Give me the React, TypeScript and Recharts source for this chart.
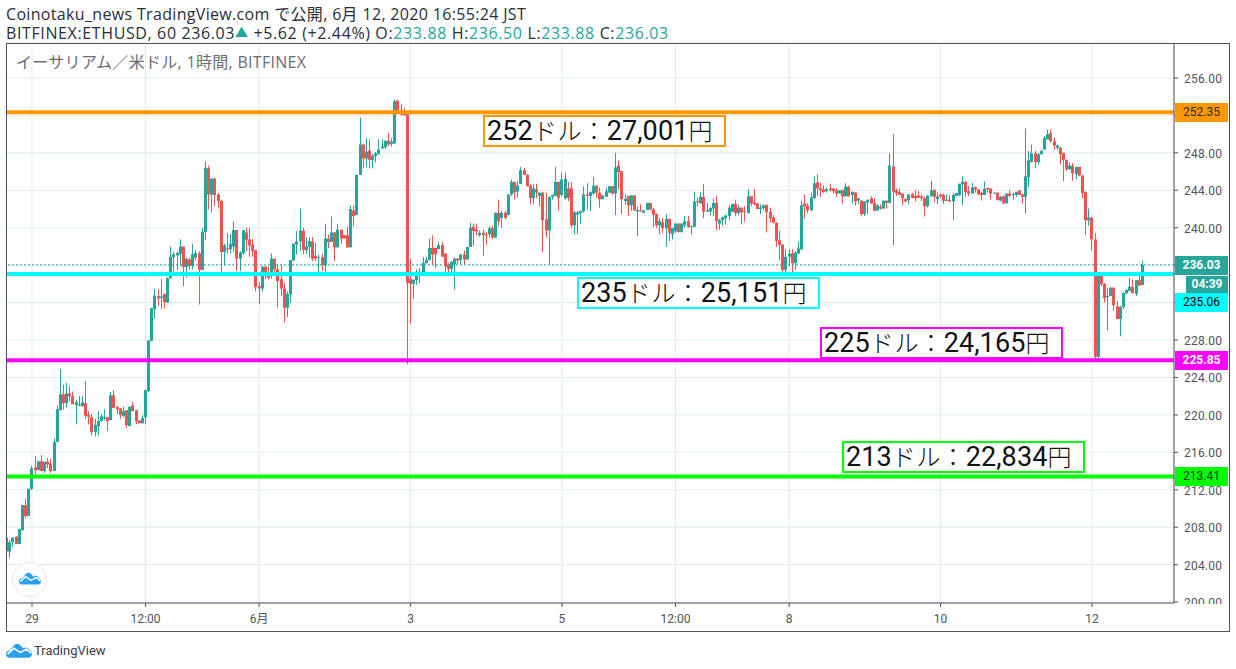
import React from "react";
import { ComposedChart, Bar, XAxis, YAxis, CartesianGrid, ReferenceLine } from "recharts";

const opens = [206.9,205.4,206.4,207,206.2,207.7,210.35,209.2,212.1,214.4,214.1,215.05,214,215,214.8,214,217.1,220.5,222.2,221.25,222.3,222,221.05,221,220.95,221.25,220,219.75,218.15,218.8,219.35,219.6,219.75,219.45,222.1,220.85,220.7,219.9,220.5,218.8,221,220.5,219.4,219.1,219.75,222.55,
227.9,231.3,232.7,232.5,232.9,232,234.6,236.85,237.05,237.2,238,235.8,236.6,235.9,236.8,237.25,235.5,239.55,246.35,243.55,245.25,243.55,242.9,237.4,237.8,237.7,238,239.75,236.7,237.25,239.5,238.75,238.2,237.6,233.75,233.5,235.85,235,234.85,236.7,235.55,234.5,233.5,231.45,232.9,236.5,238.2,238.55,239.7,237.6,237.95,238.55,237,236.75,236.85,236,238.85,238.5,239.5,237.9,239.8,239.2,239.2,237.9,241.85,241.35,245.65,248.9,247.4,248.25,247.25,247.65,247.85,248.5,248.6,249.3,248.95,249,253.6,252.6,252.2,252.1,234.5,234,234.4,235.3,
234.9,236.2,236.55,237.85,237.85,237.7,238.15,237.25,236.1,235.6,236.1,236.7,236.55,237.15,236.6,237.95,240.1,239.8,239.2,239.45,239.3,239.3,239.95,238.95,241.6,241.05,241.6,241.35,243.55,244.9,243.85,244.7,246.15,245.65,244.5,243.15,244.1,243.4,243.75,240.9,239.7,243.3,243.4,244.9,243.5,243.15,244.2,244.2,240.25,241.4,241.55,241.75,243.55,243.4,243.65,244.5,243.75,243.05,243.3,243.75,244.45,243.65,246.65,246.05,242.85,243.4,242.4,243.45,241.75,241.85,241.6,241.9,242.65,241.95,241.5,240.25,240.6,239.95,240.95,239.3,239.6,240.45,239.55,240.25,240.7,240.1,240.1,242.85,242.6,243.3,241.7,241.75,242.05,242.65,240.45,
240.8,241,241.25,241.7,242.55,241.55,242.15,241.75,241.55,243.35,242.7,242.6,242,242.1,242.4,241.7,241.1,240.55,238.65,238.2,235.5,236.9,237.25,236.2,237.25,237.7,242.6,242.4,241.85,243.15,244.85,244.25,244.1,243.9,244.2,244.2,244,243.65,244,243.35,244.4,243.5,243.75,242.9,242.9,241.45,242.7,243.15,242.65,241.85,242.25,242.05,242.9,242.65,246.55,244,243.8,243.65,243.05,242.95,243.6,243.4,243.45,243.35,243.15,242.3,243.35,244.05,243.05,243.55,243.5,242.9,243,242.8,243.4,243.5,244.65,244.9,243.9,243.65,244.35,244.1,243.7,243.5,244.25,244.2,243.65,243.75,242.9,243.35,242.6,243.65,243.5,243.5,244,
243.55,243.3,245.4,247,247.95,247,247.85,248.35,249.45,250.1,249.25,248.55,248.55,248,247.25,246.25,246.65,245.75,246.5,245.6,243.8,240.8,241.1,238.75,226.2,234.85,234,232.6,232.7,233.6,231.6,230.25,231.55,233,233.25,233.7,232.9,234.4,233.88];

const highs = [206.9,206.6,206.9,207,207.8,210.35,211.05,212.1,214.55,215.6,215.05,215.7,215,215.4,215.3,217.5,221,224.9,223.2,223.4,223.1,222.5,221.6,222,222,223.6,220.4,220.1,219.6,220.4,220.1,220.6,219.75,222.45,222.65,220.95,220.7,220.9,220.5,220.95,221.4,220.5,219.4,219.95,222.65,227.95,
231.4,233.5,233.4,234.5,233,234.65,238,237.45,237.5,238.75,238,236.8,236.8,238.3,237.6,237.5,240,247.1,246.65,245.25,245.35,243.7,242.9,238.3,239.45,239.3,240.7,239.75,237.5,239.75,240,240,238.8,237.6,234.2,235.85,235.85,235.85,237.25,236.7,236.05,236,234.1,233.2,236.55,238.3,239.65,242.05,240,239,239,239,238.4,237.15,237.2,240.4,239.3,241.2,239.5,240.4,239.8,239.2,240.15,242.4,242.4,245.65,251.8,248.9,249.55,249.45,247.85,248.1,249.45,249.45,249.3,250.1,249.55,253.7,253.6,253.2,252.85,252.3,236.7,234.45,235.55,235.7,
236.9,236.9,238.85,239.2,237.85,238.5,238.5,237.25,236.25,236.45,236.8,236.7,237.15,237.6,237.95,240.55,240.45,240.45,239.7,239.8,239.55,240.15,240.25,241.6,243,241.8,241.8,243.55,245.15,244.9,245,246.5,246.4,245.7,244.65,244.65,244.7,243.75,243.75,243.75,243.3,243.55,246.5,244.9,245.9,245.9,244.9,244.9,241.8,241.8,241.8,244.4,244.75,243.9,245.45,244.5,244.3,243.55,244.3,244.45,244.45,248,247.2,246.05,243.55,243.4,243.45,243.45,242.25,242.5,241.85,242.65,242.65,242.15,241.5,241.05,241.05,241.45,240.95,240,240.45,240.45,240.45,241.25,241.25,240.2,243.85,243.2,243.8,244.65,242.65,242.2,243.1,243.4,240.95,
241.2,241.4,242.4,242.55,243,242.5,242.15,242.3,244.1,243.35,244.1,242.6,242.5,242.5,242.5,242.15,241.35,240.55,239.7,238.2,237.7,237.7,237.7,237.5,238.5,242.9,243.55,242.65,243.75,245.5,245.7,244.8,244.55,244.3,244.7,244.2,244.2,244,244.1,244.75,244.5,243.85,243.8,243.15,242.9,242.8,243,243.35,243.15,242.5,242.5,242.9,242.9,247.95,250,244.2,244.2,243.65,243.15,243.55,243.7,244,243.9,243.55,243.35,243.45,245,244.1,243.75,243.65,243.65,243.55,243.45,243.75,243.75,244.7,245.5,245,244.45,244.8,244.4,244.1,243.85,244.95,244.3,244.2,243.75,243.75,243.4,243.45,243.65,244,243.75,243.85,244,
243.65,250.6,248.2,248.9,248.2,247.95,248.35,249.8,250.5,250.5,249.6,248.9,248.65,248,247.3,246.95,246.9,246.5,246.5,245.6,243.9,242.05,241.1,239.45,235.2,234.9,234.1,233.6,233.6,233.6,232.15,231.65,233.05,233.4,234.65,234.5,234.4,235,236.5];

const lows = [204.9,204.7,205.9,206.2,206.2,207.6,209,209.2,212,213.7,214.1,214,213.8,214.3,213.8,214,217.1,220.5,220.6,220.75,221.5,221.15,219,220.9,220.85,219.6,219,217.8,217.7,217.8,219.25,219.4,218.3,219.45,220.75,220.1,219.6,219.75,218.6,218.8,220.4,219,219.1,219.1,219,222.45,
227.9,230.3,231.7,231.3,231.4,232,234.6,234.9,235.5,235.9,233.75,234.65,235.55,235.55,236.5,231.8,235.5,238.7,241.95,241.65,242.3,242.05,235,236,237.25,237.25,237.4,235.35,235.35,237.15,237.5,236.9,236.9,233.2,231.8,233.2,234.5,234.5,234.55,235,231.5,232.7,229.9,230.45,232,236.4,237.15,237.5,237.15,237.2,236.8,236.45,236.45,234.95,235.4,234.85,237.8,238.5,236.45,237.9,238.3,238.85,237.9,237.9,240.15,241.35,245.65,246.35,246.45,246.35,246.35,247,247.85,248.4,248.4,248.7,248.7,249,252.4,252,252,225.4,229.75,232.45,233.9,234.1,
234.9,236.2,236.5,236.1,235.7,237.7,236.9,234.85,235.2,234.9,233.4,236.1,236.1,236.1,236.6,237.95,238.05,239.2,239.05,237,238.2,238.95,238.8,238.95,240.25,240,240.9,241.35,243.4,243,243.2,244.7,245.65,244.4,242.5,242.5,243.15,242.3,237.4,238.95,236.1,243,243.4,241.8,243.4,243,242.85,239.95,239.3,239.3,240.45,241.6,241.95,241.8,243.55,243.2,242.15,243.05,243.3,243.75,243.55,241.35,244.1,241.45,242.5,241.25,241.8,241.8,239.1,241.75,241.6,241.9,241.85,240.05,240,239.3,239.45,237.95,238.6,238.75,239.45,239.5,239.45,240,240,239.3,240.1,242.3,242.6,241.05,241.7,241.3,241.25,239.75,239.8,
240.2,240.35,240.8,241.7,241.25,241.35,240.35,240.7,241.55,242.3,242.4,242,241.5,241.9,239.5,240.55,240.45,237.95,236.5,234.95,234.95,235.9,234.95,235.5,237.2,237.6,241,241.6,241.85,243.15,243.4,243.3,243.75,243.75,243.9,243.65,243.3,243.65,242.6,243.35,243.35,242.6,242.4,242.5,241.2,241.25,241.45,242.55,241.8,241.8,241.9,242.05,242.05,242.65,238.15,243.4,243.5,242.4,242.75,242.55,243.15,242.8,243.2,242.85,241.2,242.15,243.35,242.7,242.5,243.15,242.55,242.85,242.8,240.8,243.35,243.4,242.4,243.3,243.4,243.65,243.75,243.55,242.9,243.5,243.75,243,243.65,242.95,242.8,242.6,242.6,243.3,243,243.3,243.5,
242.6,241.5,244.35,247,246.35,246.75,247.85,248.35,249.45,249.1,248.35,248.35,246.75,245,246.05,246.15,245,245.15,245.5,243.15,239.3,240.2,237.6,225.9,226,233.75,232,229.05,232.7,231.1,230.2,228.4,231.25,232.9,233.25,233,232.7,233.75,233.88];

const closes = [205.4,206.4,206.9,206.2,207.8,210.35,209.2,212.1,214.3,214.1,215.05,214,215,214.7,214,217.1,220.6,222.2,221.25,222.3,222,221.15,221.35,221.1,221.35,219.9,219.8,218.15,218.9,219.35,219.85,219.75,219.35,222.1,220.75,220.6,220,220.4,218.9,220.85,220.4,219.3,219.1,219.65,222.65,227.95,
231.4,232.75,232.45,232.65,232.05,234.65,236.9,237.15,237.3,238,235.8,236.7,235.9,237.15,237.3,235.5,239.55,246.4,243.55,245.25,243.5,242.85,237.4,238.1,237.7,238.3,239.75,236.7,237.35,239.75,238.7,238.1,237.5,233.65,233.5,235.85,235,234.65,236.7,235.55,234.3,233.5,231.45,232.95,236.55,238.3,238.55,239.7,237.6,238,238.55,236.7,236.7,236.85,236,238.85,238.45,239.5,237.9,239.8,238.85,238.85,237.9,242,241.25,245.65,248.9,247.4,248.15,247.25,247.7,247.95,248.35,248.7,249.3,248.9,249.2,253.5,252.45,252.1,252,234.1,234,234.45,235.3,234.9,
236.26,236.6,237.85,237.15,237.15,238.15,236.9,235.85,235.6,236.35,236.7,236.5,237.15,236.6,237.95,240,239.65,239.6,239.45,239.2,239.2,239.95,238.95,241.6,240.7,241.6,241.05,243.55,244.9,243.75,244.5,246.15,245.65,244.45,243.15,244.2,243.75,243.75,240.8,239.7,243.3,243.5,244.9,243.2,245.15,245.25,243.2,240.25,241.65,241.65,241.8,243.55,243.4,243.8,244.5,243.75,243.05,243.45,243.9,244.45,243.65,246.45,245.95,243.05,243.1,242.4,243.45,241.85,241.9,241.75,241.85,242.65,241.95,241.4,240.25,240.7,239.95,240.95,239.45,239.95,240.45,239.55,240.45,240.7,240.1,240.2,242.8,242.75,243.3,241.7,241.85,242.1,242.65,240.7,240.8,
241.1,241.3,242.15,242.55,241.55,242.15,241.65,241.65,243.35,242.6,242.5,242,242.15,242.4,241.65,241,240.55,238.6,238.15,235.5,236.9,237.25,236.2,237.35,237.8,242.4,242.3,241.85,243.25,244.75,244.2,244,243.8,244.1,244,243.9,243.65,244,243.35,244.4,243.35,243.85,242.8,243.15,241.45,242.8,243,242.6,241.8,242.4,242.05,242.9,242.65,246.65,243.85,243.7,243.5,243.15,242.8,243.55,243.2,243.15,243.2,243.15,242.3,243.45,244,243.3,243.35,243.35,242.85,243,242.8,243.5,243.7,244.7,244.9,243.8,243.65,244.3,244.1,243.55,243.5,244.15,244.1,243.65,243.75,242.95,243.3,242.6,243.65,243.4,243.6,243.85,243.5,
243.3,245.5,247.2,247.95,247,247.85,248.2,249.6,250,249.25,248.75,248.8,247.85,247.25,246.25,246.65,245.8,246.5,245.6,243.7,240.8,241.1,238.75,226.2,234.85,233.95,232.5,232.7,233.6,231.7,230.25,231.55,233.05,233.35,233.7,233,234.4,233.85,236.03];

const timeTickIndex = [8, 44, 80, 128, 176, 212, 248, 296, 344];
const timeTickLabels = ["29", "12:00", "6月", "3", "5", "12:00", "8", "10", "12"];
const priceTicks = [200,204,208,212,216,220,224,228,232,236,240,244,248,252,256];
const hiddenPriceTicks = [232, 236, 252];

const levelValues = [252.35, 235.06, 225.85, 213.41];
const levelColors = ["#ff9800", "#00ffff", "#ff00ff", "#00ff00"];
const levelTextColors = ["#2a2e39", "#000000", "#ffffff", "#1c3a20"];
const annotationTexts = ["252ドル：27,001円", "235ドル：25,151円", "225ドル：24,165円", "213ドル：22,834円"];
const lastPrice = 236.03;

const UP = "#26a69a";
const DOWN = "#ef5350";
const AXIS = "#50535e";
const GRID = "#e1ecf2";
const FONT = "Roboto, 'Noto Sans CJK JP', sans-serif";
const HEAD_FONT = "'Open Sans', 'Noto Sans CJK JP', sans-serif";

const rows = closes.map((c, i) => ({ i, o: opens[i], h: highs[i], l: lows[i], c }));

const Wick = (p: any) => (
  <rect x={Math.round(p.x + p.width / 2 - 0.5)} y={p.y} width={1} height={Math.max(p.height, 1)}
    fill={p.payload.c >= p.payload.o ? UP : DOWN} />
);
const Body = (p: any) => (
  <rect x={Math.round(p.x + p.width / 2 - 1.5)} y={p.y} width={3} height={Math.max(p.height, 1)}
    fill={p.payload.c >= p.payload.o ? UP : DOWN} />
);

const PriceTick = (p: any) =>
  hiddenPriceTicks.includes(p.payload.value) ? null : (
    <text x={1184} y={p.y + 5} fill={AXIS} fontSize={12} fontFamily={FONT} letterSpacing={0.2}>
      {p.payload.value.toFixed(2)}
    </text>
  );

const abs = (left: number, top: number, extra: React.CSSProperties = {}): React.CSSProperties => ({
  position: "absolute", left, top, ...extra,
});

const annotationBoxes = [
  { left: 483, top: 115, width: 243, height: 32 },
  { left: 577, top: 277, width: 243, height: 32 },
  { left: 820, top: 327, width: 243, height: 32 },
  { left: 842, top: 441, width: 243, height: 32 },
];
const levelBoxTops = [103, 293, 351, 467];

const Cloud = ({ left, top, w, h, stroke }: any) => (
  <svg style={abs(left, top)} width={w} height={h} viewBox="0 0 36 20">
    <path d="M5 20 C1 20 0 17 0 15 C0 12 2 10 5 10 L12 2 C14 0 17 0 19 2 L24 7 C26 5 30 5 32 9 C35 10 36 13 36 15 C36 18 34 20 31 20 Z" fill="#2aa0f3" />
    <polyline points="2,15 11,7 20,13 28,8 35,14" fill="none" stroke={stroke} strokeWidth={2.2} />
  </svg>
);

const Annotation = ({ text }: { text: string }) => (
  <>
    {text.split(/([0-9,]+)/).filter(Boolean).map((part, n) =>
      /[0-9]/.test(part) ? (
        <span key={n} style={{ fontFamily: FONT, fontSize: 27, fontWeight: 400, letterSpacing: 0.1 }}>{part}</span>
      ) : (
        <span key={n} style={{ fontFamily: "'Noto Sans CJK JP'", fontSize: 24, fontWeight: 300, letterSpacing: part.length > 1 ? 0.6 : 0 }}>{part}</span>
      )
    )}
  </>
);

export default function App() {
  return (
    <div style={{ position: "absolute", left: 0, top: 0, width: 1236, height: 669, background: "#fff", fontFamily: FONT, overflow: "hidden" }}>
      <ComposedChart width={1236} height={669} data={rows} margin={{ top: 43, right: 7, bottom: 38, left: 6 }} barGap={0}>
        <CartesianGrid stroke={GRID} strokeWidth={1} />
        <XAxis dataKey="i" type="number" scale="linear" domain={[-0.24, 370]} allowDataOverflow ticks={timeTickIndex} interval={0}
          height={28} tickSize={4} tickMargin={7} stroke={AXIS} tick={{ fill: AXIS, fontSize: 12, fontFamily: FONT }}
          tickFormatter={(v: number) => timeTickLabels[timeTickIndex.indexOf(v)]} />
        <XAxis xAxisId="wick" dataKey="i" type="number" scale="linear" domain={[-0.24, 370]} allowDataOverflow hide />
        <YAxis orientation="right" type="number" domain={[199.9, 259.74]} allowDataOverflow ticks={priceTicks} interval={0} width={55}
          tickSize={4} stroke={AXIS} tick={PriceTick} />
        <Bar xAxisId="wick" dataKey={(r: any) => [r.l, r.h]} barSize={1} isAnimationActive={false} shape={Wick} />
        <Bar dataKey={(r: any) => [Math.min(r.o, r.c), Math.max(r.o, r.c)]} barSize={3} isAnimationActive={false} shape={Body} />
        <ReferenceLine y={lastPrice} stroke={UP} strokeDasharray="2 2" strokeWidth={1} />
        {levelValues.map((v, k) => (
          <ReferenceLine key={v} y={v} stroke={levelColors[k]} strokeWidth={4} />
        ))}
      </ComposedChart>

      {/* Frame */}
      <div style={abs(6, 43, { width: 1222, height: 587, border: `1px solid ${AXIS}` })} />
      <div style={abs(1175, 604, { width: 53, height: 26, background: "#fff" })} />

      {/* Header */}
      <div style={abs(6, 6, { fontFamily: HEAD_FONT, fontSize: 16, lineHeight: "17px", height: 17, letterSpacing: 0.33, color: "#2a2e39", whiteSpace: "nowrap" })}>
        Coinotaku_news TradingView.com で公開, 6月 12, 2020 16:55:24 JST
      </div>
      <div style={abs(6, 24, { fontFamily: HEAD_FONT, fontSize: 16, lineHeight: "17px", height: 17, letterSpacing: 0.62, color: "#2a2e39", whiteSpace: "nowrap" })}>
        BITFINEX:ETHUSD, 60 236.03<span style={{ color: UP, fontSize: 13, verticalAlign: 2 }}>▲</span> +5.62 (+2.44%) O:<span style={{ color: UP }}>233.88</span> H:<span style={{ color: UP }}>236.50</span> L:<span style={{ color: UP }}>233.88</span> C:<span style={{ color: UP }}>236.03</span>
      </div>
      <div style={abs(16, 53, { fontFamily: HEAD_FONT, fontSize: 16, lineHeight: "18px", letterSpacing: 0.3, color: "#6a6d78", whiteSpace: "nowrap" })}>
        イーサリアム／米ドル, 1時間, BITFINEX
      </div>

      {/* Price axis labels */}
      <div style={abs(1175, 256, { width: 53, height: 19, background: UP, color: "#fff", fontSize: 12, fontWeight: 700, lineHeight: "19px", textAlign: "center" })}>236.03</div>
      <div style={abs(1186, 276, { width: 42, height: 17, background: UP, color: "#fff", fontSize: 12, fontWeight: 700, lineHeight: "17px", textAlign: "center" })}>04:39</div>
      {levelValues.map((v, k) => (
        <div key={v} style={abs(1175, levelBoxTops[k], { width: 53, height: 19, background: levelColors[k], color: levelTextColors[k], fontSize: 12, fontWeight: k === 2 ? 700 : 400, lineHeight: "19px", textAlign: "center" })}>
          {v.toFixed(2)}
        </div>
      ))}

      {/* Annotations */}
      {annotationTexts.map((t, k) => {
        const b = annotationBoxes[k];
        return (
          <div key={t} style={abs(b.left, b.top, { boxSizing: "border-box", width: b.width, height: b.height, border: `2px solid ${levelColors[k]}`, background: "#fff", color: "#111", lineHeight: "26px", paddingLeft: 2, whiteSpace: "nowrap" })}>
            <Annotation text={t} />
          </div>
        );
      })}

      {/* Logos */}
      <div style={abs(12, 562, { boxSizing: "border-box", width: 35, height: 35, borderRadius: "50%", border: "1px solid #e8e8e8", background: "#fff" })} />
      <Cloud left={19} top={572} w={22} h={13} stroke="#fff" />
      <Cloud left={6} top={643} w={26} h={15} stroke="#fff" />
      <div style={abs(34, 642, { fontSize: 13, lineHeight: "18px", color: "#3a3d48" })}>TradingView</div>
    </div>
  );
}
